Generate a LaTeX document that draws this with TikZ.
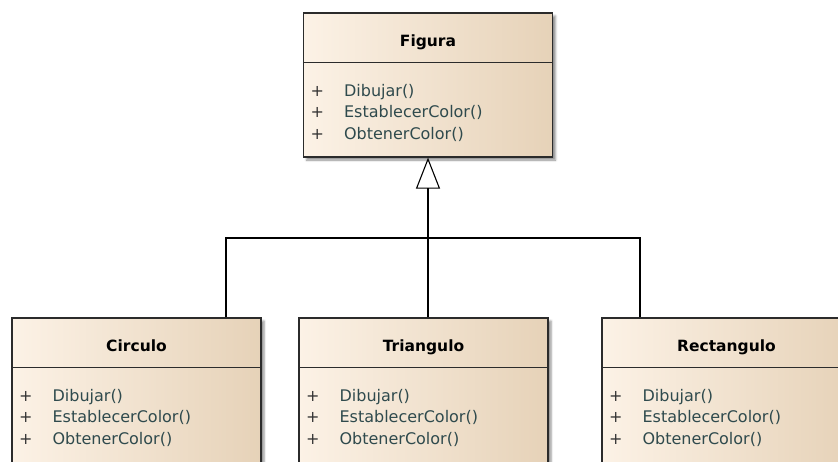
\documentclass[tikz,border=0pt]{standalone}
\usepackage{fontspec}
\setmainfont{DejaVu Sans}
\usetikzlibrary{arrows.meta,shadows.blur}
\definecolor{classleft}{HTML}{FCF2E6}
\definecolor{classright}{HTML}{E6D2B8}
\definecolor{methodtext}{HTML}{2F4A4D}
\definecolor{classborder}{HTML}{2B2B2B}
\tikzset{>=latex}

\begin{document}
\begin{tikzpicture}[x=1pt, y=-1pt]
  % class boxes: Figura on top, the three subclasses below
  \tikzstyle{classbox}=[draw=classborder, line width=1.2pt, left color=classleft, right color=classright, minimum width=249pt, minimum height=144pt, inner sep=0pt, blur shadow={shadow xshift=3pt, shadow yshift=-3pt, shadow blur steps=4, shadow opacity=45}]
  \tikzstyle{classname}=[font=\bfseries\fontsize{15.5}{18}\selectfont, anchor=base, inner sep=0pt]
  \tikzstyle{method}=[font=\fontsize{16}{18}\selectfont, text=methodtext, anchor=base west, inner sep=0pt]
  \tikzstyle{line}=[black, line width=1.1pt]
  \useasboundingbox (0,0) rectangle (838,461);
  \clip (0,0) rectangle (838,461);
  \node[classbox] (figura) at (428,85) {};
  \node[classbox, minimum height=148pt] (circulo) at (136.5,392) {};
  \node[classbox, minimum height=148pt] (triangulo) at (423.5,392) {};
  \node[classbox, minimum height=148pt] (rectangulo) at (726.5,392) {};
  \foreach \cls/\title in {figura/Figura, circulo/Circulo, triangulo/Triangulo, rectangulo/Rectangulo}{
    \node[classname] (\cls-name) at ([yshift=-34pt]\cls.north) {\title};
    \draw[draw=classborder, line width=1.2pt] ([yshift=-50pt]\cls.north west) -- ([yshift=-50pt]\cls.north east);
    \foreach \m [count=\i] in {Dibujar(), EstablecerColor(), ObtenerColor()}
      \node[method] (\cls-m\i) at ([xshift=7.5pt, yshift={-84pt-21.5pt*(\i-1)}]\cls.north west) {\makebox[33.5pt][l]{\color{black!80}+}\m};
  }
  % generalization
  \coordinate (bus) at (428,238);
  \draw[line, -{Triangle[open, length=31pt, width=24pt]}] (bus) -- (figura.south);
  \draw[line] ([xshift=89.5pt]circulo.north) |- (bus);
  \draw[line] ([xshift=4.5pt]triangulo.north) -- (bus);
  \draw[line] ([xshift=-86.5pt]rectangulo.north) |- (bus);
\end{tikzpicture}
\end{document}
